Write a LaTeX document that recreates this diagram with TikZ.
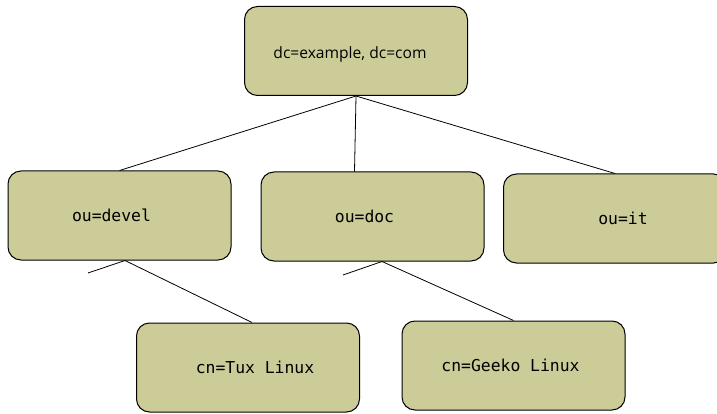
\documentclass[tikz,border=0pt]{standalone}
\usepackage{fontspec}
\setsansfont{Open Sans}
\setmonofont{DejaVu Sans Mono}
\definecolor{entryfill}{RGB}{204,204,153}
\tikzset{
  entry/.style={draw=black, line width=1pt, fill=entryfill, rounded corners=13pt,
    minimum width=223pt, minimum height=89pt, inner sep=0pt},
  every label/.style={font=\ttfamily\fontsize{16.4}{20}\selectfont, inner sep=0pt},
  link/.style={draw=black, line width=0.8pt}
}
\begin{document}
\begin{tikzpicture}[x=1pt, y=-1pt]
  \useasboundingbox (0,0) rectangle (717,414);
  % directory entries
  \node[entry, label={[xshift=-6pt, yshift=-3pt, font=\sffamily\fontsize{15.6}{18}\selectfont]center:dc=example, dc=com}] (root) at (356,51) {};
  \node[entry, label={[xshift=-8pt]center:ou=devel}] (devel) at (119.5,215.5) {};
  \node[entry, label={[xshift=-8pt]center:ou=doc}] (doc) at (372.5,216.5) {};
  \node[entry, label={[xshift=8pt]center:ou=it}] (it) at (615,218.5) {};
  \node[entry, label={[xshift=7pt]center:cn=Tux Linux}] (tux) at (248,367.5) {};
  \node[entry, label={[xshift=-3pt]center:cn=Geeko Linux}] (geeko) at (513.5,365.5) {};
  % loose ends
  \coordinate (devel-stub) at (88,273);
  \coordinate (doc-stub) at (343,275);
  % links
  \draw[link] (root.south) -- (devel.north);
  \draw[link] (root.south) -- ([xshift=-18pt]doc.north);
  \draw[link] (root.south) -- (it.north);
  \draw[link] ([xshift=5.5pt]devel.south) -- (devel-stub);
  \draw[link] ([xshift=5.5pt]devel.south) -- ([xshift=4pt]tux.north);
  \draw[link] ([xshift=9.5pt]doc.south) -- (doc-stub);
  \draw[link] ([xshift=9.5pt]doc.south) -- (geeko.north);
\end{tikzpicture}
\end{document}
